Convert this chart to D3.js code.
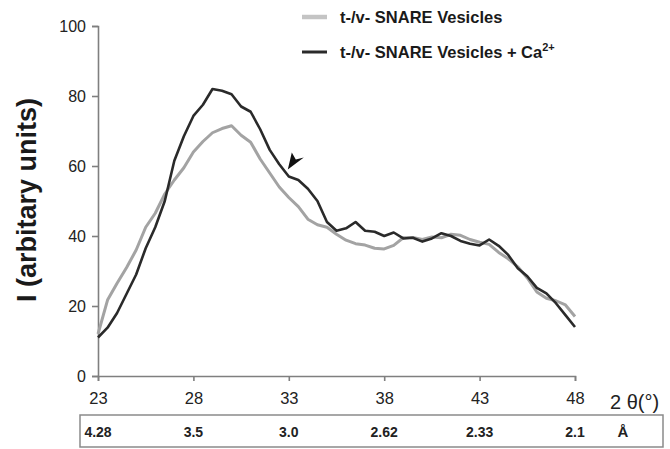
<!DOCTYPE html>
<html>
<head>
<meta charset="utf-8">
<script src="https://cdn.jsdelivr.net/npm/d3@7"></script>
<style>
  html, body { margin: 0; padding: 0; background: #fff; }
  svg { display: block; font-family: "Liberation Sans", Arial, sans-serif; }
</style>
</head>
<body>
<svg id="chart" width="670" height="449"></svg>
<script>
// ---- data ----
const angles = [23,23.5,24,24.5,25,25.5,26,26.5,27,27.5,28,28.5,29,29.5,30,30.5,31,31.5,32,32.5,33,33.5,34,34.5,35,35.5,36,36.5,37,37.5,38,38.5,39,39.5,40,40.5,41,41.5,42,42.5,43,43.5,44,44.5,45,45.5,46,46.5,47,47.5,48];
const vesicles = [12,21.7,26.5,31,36,42.5,46.5,52,56,59.5,64,67,69.5,70.7,71.5,68.8,66.8,62,58,54,51,48.4,44.8,43.2,42.5,40.5,38.8,37.8,37.4,36.5,36.3,37.3,39.5,39.6,39,39.7,39.5,40.5,40.2,39,38.2,37.6,35.3,33.5,31.2,28,24,22.2,21.5,20.3,17];
const vesiclesCa = [11,13.8,18,23.5,29,36.5,42.5,50,61.5,68.5,74.3,77.5,82,81.5,80.5,77,75.5,70.5,64.6,60.5,57,56,53.5,50,44,41.5,42.2,44,41.5,41.2,40,41,39.3,39.5,38.4,39.3,40.8,40,38.6,37.8,37.3,39,37.2,34.6,30.8,28.5,25.2,23.6,20.8,17.4,14];
const xTicks = [23,28,33,38,43,48];
const yTicks = [0,20,40,60,80,100];
const dSpacing = ["4.28","3.5","3.0","2.62","2.33","2.1"];
const seriesNames = ["t-/v- SNARE Vesicles", "t-/v- SNARE Vesicles + Ca"];
const arrowAt = [33, 59];

// ---- layout ----
const svg = d3.select("#chart");
const x = d3.scaleLinear().domain([23, 48]).range([98, 575]);
const y = d3.scaleLinear().domain([0, 100]).range([376, 26]);
const axisColor = "#7f7f7f";

// Y axis
const yAxis = svg.append("g").attr("transform", `translate(${x(23)},0)`)
  .call(d3.axisLeft(y).tickValues(yTicks).tickSize(6).tickPadding(6));
yAxis.select(".domain").attr("stroke", axisColor).attr("stroke-width", 1.6);
yAxis.selectAll(".tick line").attr("stroke", axisColor).attr("stroke-width", 1.6);
yAxis.selectAll(".tick text").attr("font-size", 16).attr("fill", "#222")
  .attr("font-family", "Liberation Sans, Arial, sans-serif");

// X axis
const xAxis = svg.append("g").attr("transform", `translate(0,${y(0)})`)
  .call(d3.axisBottom(x).tickValues(xTicks).tickSize(5).tickPadding(11).tickSizeOuter(5));
xAxis.select(".domain").attr("stroke", axisColor).attr("stroke-width", 1.6);
xAxis.selectAll(".tick line").attr("stroke", axisColor).attr("stroke-width", 1.6);
xAxis.selectAll(".tick text").attr("font-size", 16.5).attr("fill", "#222")
  .attr("font-family", "Liberation Sans, Arial, sans-serif");

// x axis label
svg.append("text").attr("x", 610).attr("y", y(0) + 33)
  .attr("font-size", 20).attr("fill", "#222").text("2 \u03B8(\u00B0)");

// d-spacing box
svg.append("rect").attr("x", 80).attr("y", 415).attr("width", 583).attr("height", 32)
  .attr("fill", "none").attr("stroke", "#8a8a8a").attr("stroke-width", 1.5);
svg.selectAll("text.dsp").data(dSpacing).join("text").attr("class", "dsp")
  .attr("x", (d, i) => x(xTicks[i]))
  .attr("y", 437)
  .attr("text-anchor", "middle").attr("font-size", 14).attr("font-weight", "bold").attr("fill", "#222")
  .text(d => d);
svg.append("text").attr("x", 623).attr("y", 437).attr("text-anchor", "middle")
  .attr("font-size", 15).attr("font-weight", "bold").attr("fill", "#222").text("\u00C5");

// Y title
svg.append("text").attr("transform", "translate(36,200) rotate(-90)")
  .attr("text-anchor", "middle").attr("font-size", 27).attr("font-weight", "bold").attr("fill", "#1a1a1a")
  .text("I (arbitary units)");

// lines
const line = d3.line().x((d, i) => x(angles[i])).y(d => y(d)).curve(d3.curveLinear);
svg.append("path").datum(vesicles).attr("d", line)
  .attr("fill", "none").attr("stroke", "#a3a3a3").attr("stroke-width", 3).attr("stroke-linejoin", "round");
svg.append("path").datum(vesiclesCa).attr("d", line)
  .attr("fill", "none").attr("stroke", "#2a2a2a").attr("stroke-width", 2.6).attr("stroke-linejoin", "round");

// arrowhead annotation
const ax = x(arrowAt[0]), ay = y(arrowAt[1]);
svg.append("path")
  .attr("d", `M${ax - 1},${ay} L${ax + 3},${ay - 17} L${ax + 7},${ay - 10} L${ax + 15},${ay - 12} Z`)
  .attr("fill", "#111");

// legend
const leg = svg.append("g");
const legColors = ["#c4c4c4", "#2a2a2a"];
const legY = [17, 52];
legColors.forEach((c, i) => {
  leg.append("line").attr("x1", 302).attr("x2", 327).attr("y1", legY[i]).attr("y2", legY[i])
    .attr("stroke", c).attr("stroke-width", i === 0 ? 4.5 : 3);
  const t = leg.append("text").attr("x", 340).attr("y", legY[i] + 6)
    .attr("font-size", 16.5).attr("font-weight", "bold").attr("fill", "#1a1a1a")
    .text(seriesNames[i]);
  if (i === 1) {
    t.append("tspan").attr("font-size", 11).attr("dy", -7).text("2+");
  }
});
</script>
</body>
</html>
